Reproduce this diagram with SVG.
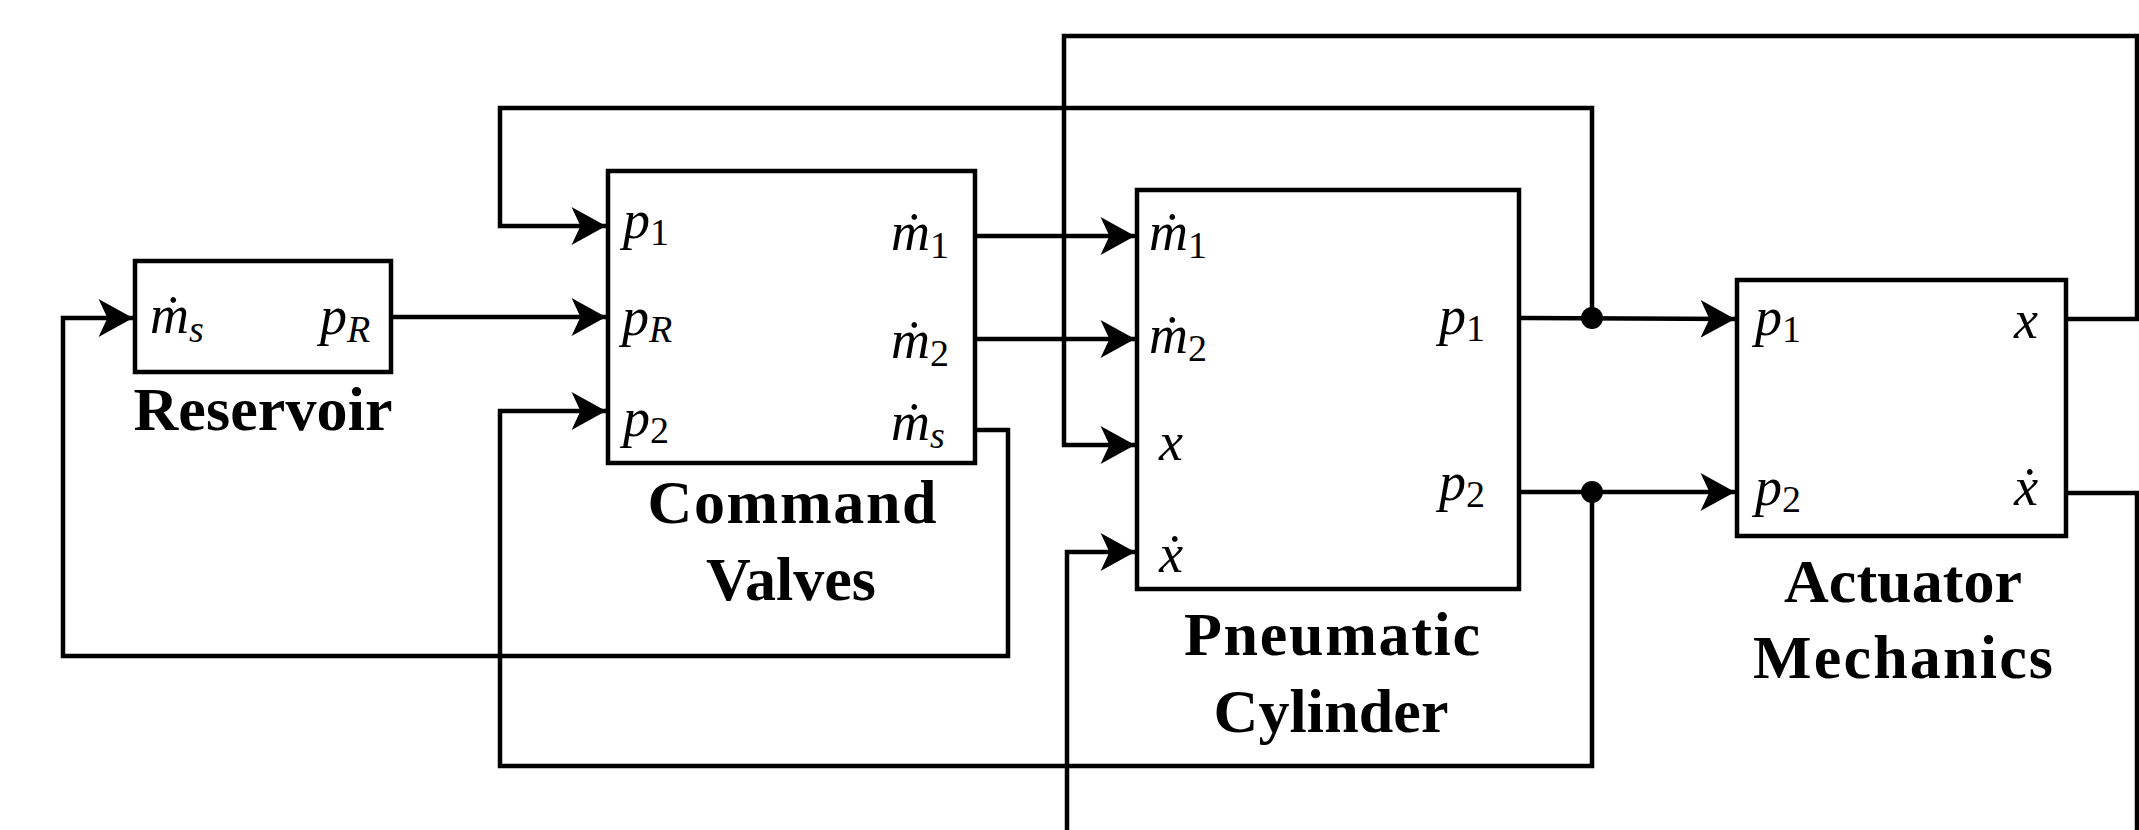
<svg xmlns="http://www.w3.org/2000/svg" width="2139" height="830" viewBox="0 0 2139 830">
<style>
  .box{fill:#fff;stroke:#000;stroke-width:4.5}
  .wire{fill:none;stroke:#000;stroke-width:4.5;stroke-linejoin:miter;stroke-linecap:square}
  .arr{marker-end:url(#ah)}
  .m{font-family:"Liberation Serif","DejaVu Serif","Times New Roman",serif;font-style:italic;font-size:54px;fill:#000}
  .up{font-style:normal}
  .sub{font-size:38px}
  .t{font-family:"Liberation Serif","Times New Roman",serif;font-weight:bold;font-size:62px;fill:#000;text-anchor:middle}
</style>
<defs>
  <marker id="ah" markerUnits="userSpaceOnUse" markerWidth="40" markerHeight="40" viewBox="-32 -18 34 36" refX="0" refY="0" orient="auto">
    <path d="M0,0 L-31,-17 L-23,0 L-31,17 Z" fill="#000"/>
  </marker>
</defs>
<rect width="2139" height="830" fill="#fff"/>

<g id="connectors">
  <path class="wire arr" d="M391,317 H606"/>
  <path class="wire arr" d="M975,430 H1008 V656 H63 V318 H133"/>
  <path class="wire arr" d="M975,236 H1135"/>
  <path class="wire arr" d="M975,339 H1135"/>
  <path class="wire arr" d="M1519,318 L1735,319"/>
  <path class="wire arr" d="M1592,318 V108 H500 V226 H606"/>
  <path class="wire arr" d="M1519,492 H1735"/>
  <path class="wire arr" d="M1592,492 V766 H500 V411 H606"/>
  <path class="wire arr" d="M2066,319 H2137 V36 H1064 V445 H1135"/>
  <path class="wire" d="M2066,493 H2137 V834"/>
  <path class="wire arr" d="M1067,834 V552 H1135"/>
  <circle cx="1592" cy="318" r="11" fill="#000"/>
  <circle cx="1592" cy="492" r="11" fill="#000"/>
</g>

<g id="reservoir">
  <rect class="box" x="135" y="261" width="256" height="111"/>
  <text class="m" x="150" y="333">ṁ<tspan class="sub" dy="9">s</tspan></text>
  <text class="m" x="320" y="334">p<tspan class="sub" dy="8">R</tspan></text>
  <text class="t" x="263" y="430" textLength="259" lengthAdjust="spacing">Reservoir</text>
</g>

<g id="command-valves">
  <rect class="box" x="608" y="171" width="367" height="292"/>
  <text class="m" x="623" y="238">p<tspan class="sub up" dy="7">1</tspan></text>
  <text class="m" x="622" y="335">p<tspan class="sub" dy="7">R</tspan></text>
  <text class="m" x="623" y="436">p<tspan class="sub up" dy="7">2</tspan></text>
  <text class="m" x="891" y="250">ṁ<tspan class="sub up" dy="8">1</tspan></text>
  <text class="m" x="891" y="358">ṁ<tspan class="sub up" dy="8">2</tspan></text>
  <text class="m" x="891" y="440">ṁ<tspan class="sub" dy="8">s</tspan></text>
  <text class="t" x="792" y="523" textLength="289" lengthAdjust="spacing">Command</text>
  <text class="t" x="791" y="600" textLength="170" lengthAdjust="spacing">Valves</text>
</g>

<g id="pneumatic-cylinder">
  <rect class="box" x="1137" y="190" width="382" height="399"/>
  <text class="m" x="1149" y="250">ṁ<tspan class="sub up" dy="8">1</tspan></text>
  <text class="m" x="1149" y="353">ṁ<tspan class="sub up" dy="8">2</tspan></text>
  <text class="m" x="1159" y="460">x</text>
  <text class="m" x="1159" y="572">ẋ</text>
  <text class="m" x="1439" y="334">p<tspan class="sub up" dy="7">1</tspan></text>
  <text class="m" x="1439" y="500">p<tspan class="sub up" dy="7">2</tspan></text>
  <text class="t" x="1332" y="655" textLength="296" lengthAdjust="spacing">Pneumatic</text>
  <text class="t" x="1331" y="732" textLength="235" lengthAdjust="spacing">Cylinder</text>
</g>

<g id="actuator-mechanics">
  <rect class="box" x="1737" y="280" width="329" height="256"/>
  <text class="m" x="1755" y="335">p<tspan class="sub up" dy="7">1</tspan></text>
  <text class="m" x="1755" y="505">p<tspan class="sub up" dy="7">2</tspan></text>
  <text class="m" x="2014" y="338">x</text>
  <text class="m" x="2014" y="505">ẋ</text>
  <text class="t" x="1903" y="602" textLength="238" lengthAdjust="spacing">Actuator</text>
  <text class="t" x="1903" y="678" textLength="300" lengthAdjust="spacing">Mechanics</text>
</g>
</svg>
